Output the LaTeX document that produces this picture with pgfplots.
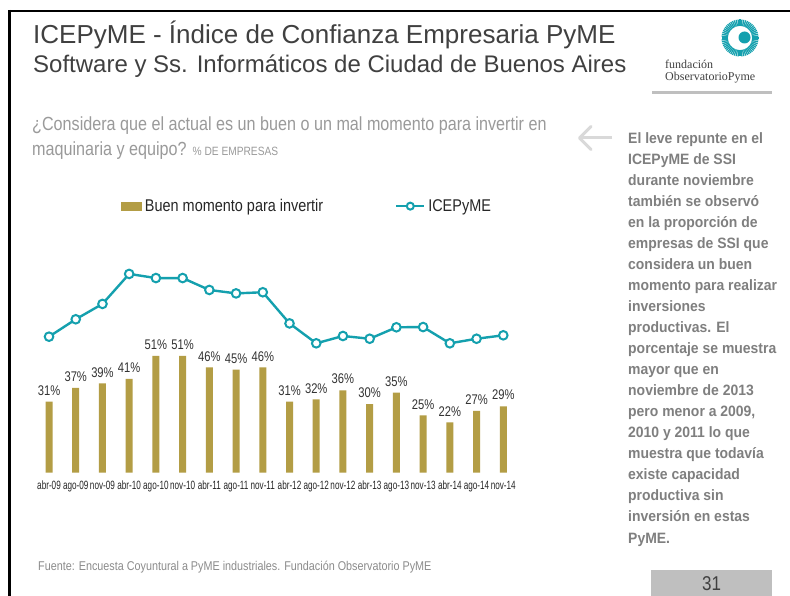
\documentclass[border=0pt]{standalone}
\usepackage{pgfplots}
\pgfplotsset{compat=1.18}
\usepackage{fontspec}
\setmainfont{Liberation Sans}
\newfontfamily\nar[FakeStretch=0.85]{Liberation Sans}
\newfontfamily\nart[FakeStretch=0.68]{Liberation Sans}
\newfontfamily\narl[FakeStretch=0.8]{Liberation Sans}
\newfontfamily\narb[FakeStretch=0.93]{Liberation Sans Bold}
\newfontfamily\logofont{Liberation Serif}
\definecolor{gold}{HTML}{B39D45}
\definecolor{teal}{HTML}{14A0AE}
\definecolor{titlegray}{HTML}{404040}
\definecolor{qgray}{HTML}{9A9A9A}
\definecolor{sidegray}{HTML}{7F7F7F}
\definecolor{boxgray}{HTML}{BFBFBF}

\pgfplotstableread{
x bm ice
0 31 59.4
1 37 67.0
2 39 73.7
3 41 86.8
4 51 85.0
5 51 85.0
6 46 79.8
7 45 78.3
8 46 78.8
9 31 65.2
10 32 56.5
11 36 59.7
12 30 58.5
13 35 63.5
14 25 63.6
15 22 56.5
16 27 58.5
17 29 60.0
}\datatable

\begin{document}
\begin{tikzpicture}
\path[use as bounding box, fill=white] (0pt,0pt) rectangle (790pt,-596pt);
\begin{scope}[x=1pt,y=-1pt]
% slide frame
\draw[black, line width=2.5pt] (8,11) -- (790,11);
\draw[black, line width=3pt] (9.5,10) -- (9.5,596);
% titles
\node[anchor=base west, inner sep=0pt, text=titlegray, font=\fontsize{26}{28}\selectfont]
  at (33,44) {ICEPyME - Índice de Confianza Empresaria PyME};
\node[anchor=base west, inner sep=0pt, text=titlegray, font=\fontsize{24}{26}\selectfont]
  at (33,73) {Software y Ss. Informáticos de Ciudad de Buenos Aires};
% logo
\foreach \a in {0,6,...,354}
  \draw[teal, line width=1.3pt] (740,38)+(\a:12) -- +(\a:18.5);
\fill[teal] (744.5,37.5) circle (6);
\node[anchor=base west, inner sep=0pt, text=titlegray, font=\logofont\fontsize{12}{12}\selectfont]
  at (665,69) {fundación};
\node[anchor=base west, inner sep=0pt, text=titlegray, font=\logofont\fontsize{12}{12}\selectfont]
  at (665,81) {ObservatorioPyme};
\draw[boxgray, line width=3pt] (652,92.5) -- (772,92.5);
% question
\node[anchor=base west, inner sep=0pt, text=qgray, font=\nar\fontsize{19}{21}\selectfont]
  at (32,131) {¿Considera que el actual es un buen o un mal momento para invertir en};
\node[anchor=base west, inner sep=0pt, text=qgray, font=\nar\fontsize{19}{21}\selectfont]
  at (32,156) {maquinaria y equipo? {\fontsize{12}{13}\selectfont\% DE EMPRESAS}};
% arrow
\draw[black!15, line width=3pt] (612,138) -- (580,138);
\draw[black!15, line width=3pt, line cap=round, line join=round] (591,126.5) -- (579.5,138) -- (591,149.5);
% side text
\node[anchor=north west, inner sep=0pt, align=left, text=sidegray,
  font=\narb\fontsize{15}{21.05}\selectfont] at (628,132) {El leve repunte en el\\
ICEPyME de SSI\\
durante noviembre\\
también se observó\\
en la proporción de\\
empresas de SSI que\\
considera un buen\\
momento para realizar\\
inversiones\\
productivas. El\\
porcentaje se muestra\\
mayor que en\\
noviembre de 2013\\
pero menor a 2009,\\
2010 y 2011 lo que\\
muestra que todavía\\
existe capacidad\\
productiva sin\\
inversión en estas\\
PyME.};
% footer
\node[anchor=base west, inner sep=0pt, text=black!45, font=\nar\fontsize{12.7}{14}\selectfont]
  at (38,570) {Fuente: Encuesta Coyuntural a PyME industriales. Fundación Observatorio PyME};
\fill[boxgray] (651,570) rectangle (772,597);
\node[text=titlegray, font=\nar\fontsize{20}{22}\selectfont] at (711.5,584) {31};
\end{scope}

\begin{axis}[
  at={(22.3pt,-472.7pt)}, anchor=south west,
  scale only axis, width=507.7pt, height=229pt,
  xmin=-1, xmax=18, ymin=0, ymax=100,
  enlargelimits=false,
  axis line style={draw=none},
  tick style={draw=none},
  ytick=\empty,
  xtick=data,
  xticklabels={abr-09,ago-09,nov-09,abr-10,ago-10,nov-10,abr-11,ago-11,nov-11,abr-12,ago-12,nov-12,abr-13,ago-13,nov-13,abr-14,ago-14,nov-14},
  xticklabel style={font=\nart\fontsize{12}{12}\selectfont, text=black!85, inner sep=2pt, yshift=-6pt},
  /pgf/number format/assume math mode=true,
  clip=false,
  legend columns=2,
  legend style={at={(axis description cs:0.194,1.164)}, anchor=west, draw=none, fill=none,
    font=\nar\fontsize{17}{18}\selectfont, text=black!85, inner sep=0pt,
    /tikz/every even column/.append style={column sep=70pt},
    /tikz/every odd column/.append style={column sep=1pt}},
]
\addplot[ybar, bar width=7pt, bar shift=0pt, fill=gold, draw=none,
  nodes near coords={\pgfmathprintnumber{\pgfplotspointmeta}\%},
  nodes near coords style={font=\narl\fontsize{14}{15}\selectfont, text=black!80, anchor=south, inner sep=0pt, yshift=6pt},
  legend image code/.code={\fill[gold] (0pt,-4.5pt) rectangle (21pt,4.5pt);}]
  table[x=x, y=bm] {\datatable};
\addlegendentry{Buen momento para invertir}
\addplot[teal, line width=2.4pt, mark=*, mark size=4.3pt,
  mark options={fill=white, draw=teal, line width=2pt},
  legend image code/.code={\draw[teal, line width=2pt] (0pt,0pt) -- (28pt,0pt);
    \draw[teal, fill=white, line width=2pt] (14pt,0pt) circle (3.5pt);}]
  table[x=x, y=ice] {\datatable};
\addlegendentry{ICEPyME}
\end{axis}
\end{tikzpicture}
\end{document}
